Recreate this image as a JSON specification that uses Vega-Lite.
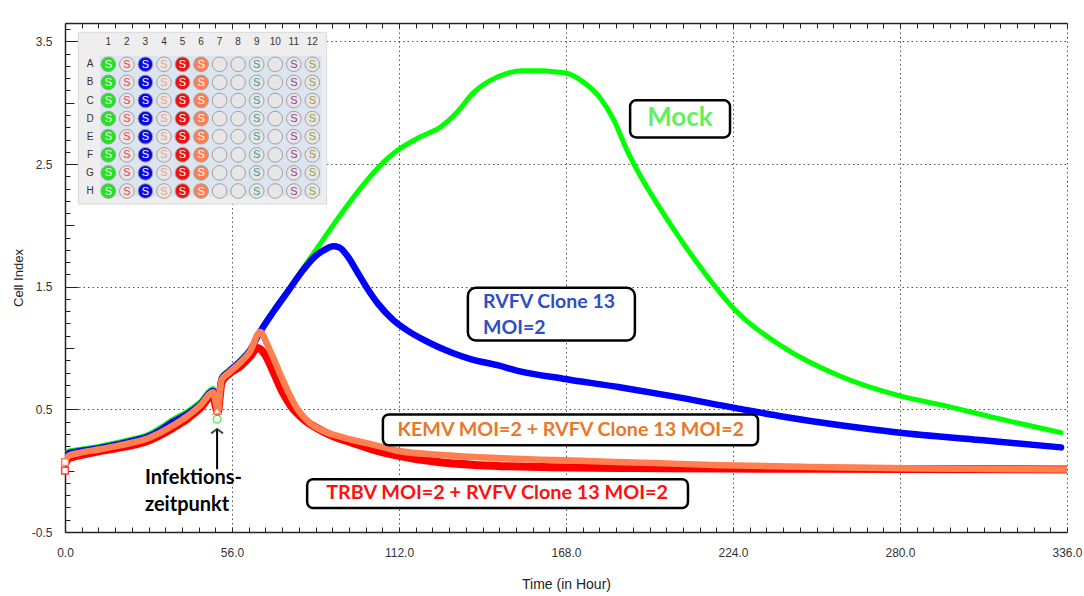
{
  "$schema": "https://vega.github.io/schema/vega-lite/v6.json",
  "width": 1002,
  "height": 509,
  "autosize": {"type": "none"},
  "padding": {"left": 65, "top": 23, "right": 17, "bottom": 64},
  "background": "white",
  "config": {"view": {"stroke": null}, "font": "Liberation Sans"},
  "datasets": {
    "curves": [
      {"s":"mock","t":0,"v":0.10},{"s":"mock","t":1.1,"v":0.16},{"s":"mock","t":3.9,"v":0.17},{"s":"mock","t":11.7,"v":0.20},{"s":"mock","t":22.9,"v":0.26},{"s":"mock","t":27.4,"v":0.29},{"s":"mock","t":31.9,"v":0.35},{"s":"mock","t":36.3,"v":0.42},{"s":"mock","t":40.8,"v":0.48},{"s":"mock","t":45.3,"v":0.56},{"s":"mock","t":49.7,"v":0.67},{"s":"mock","t":50.6,"v":0.58},{"s":"mock","t":51.4,"v":0.56},{"s":"mock","t":52.5,"v":0.76},{"s":"mock","t":55,"v":0.82},{"s":"mock","t":58.7,"v":0.90},{"s":"mock","t":62,"v":0.99},{"s":"mock","t":65.4,"v":1.14},{"s":"mock","t":70,"v":1.31},{"s":"mock","t":75,"v":1.48},{"s":"mock","t":79,"v":1.62},{"s":"mock","t":85,"v":1.83},{"s":"mock","t":91,"v":2.04},{"s":"mock","t":99,"v":2.30},{"s":"mock","t":107,"v":2.52},{"s":"mock","t":112,"v":2.62},{"s":"mock","t":119,"v":2.72},{"s":"mock","t":125.8,"v":2.80},{"s":"mock","t":131.4,"v":2.92},{"s":"mock","t":136.9,"v":3.08},{"s":"mock","t":142.5,"v":3.18},{"s":"mock","t":148.2,"v":3.24},{"s":"mock","t":153.6,"v":3.26},{"s":"mock","t":159.3,"v":3.26},{"s":"mock","t":165,"v":3.25},{"s":"mock","t":168.3,"v":3.24},{"s":"mock","t":173.7,"v":3.17},{"s":"mock","t":179.4,"v":3.04},{"s":"mock","t":184,"v":2.86},{"s":"mock","t":188.5,"v":2.61},{"s":"mock","t":193,"v":2.40},{"s":"mock","t":199.5,"v":2.14},{"s":"mock","t":206,"v":1.90},{"s":"mock","t":213,"v":1.66},{"s":"mock","t":224.7,"v":1.31},{"s":"mock","t":240,"v":1.02},{"s":"mock","t":260,"v":0.77},{"s":"mock","t":280,"v":0.61},{"s":"mock","t":295,"v":0.53},{"s":"mock","t":312,"v":0.43},{"s":"mock","t":334,"v":0.31},
      {"s":"rvfv","t":0,"v":0.08},{"s":"rvfv","t":1.1,"v":0.14},{"s":"rvfv","t":3.9,"v":0.155},{"s":"rvfv","t":11.7,"v":0.185},{"s":"rvfv","t":22.9,"v":0.245},{"s":"rvfv","t":27.4,"v":0.275},{"s":"rvfv","t":31.9,"v":0.33},{"s":"rvfv","t":36.3,"v":0.40},{"s":"rvfv","t":40.8,"v":0.46},{"s":"rvfv","t":45.3,"v":0.54},{"s":"rvfv","t":49.7,"v":0.65},{"s":"rvfv","t":50.6,"v":0.56},{"s":"rvfv","t":51.4,"v":0.54},{"s":"rvfv","t":52.5,"v":0.75},{"s":"rvfv","t":55,"v":0.81},{"s":"rvfv","t":58.7,"v":0.89},{"s":"rvfv","t":62,"v":0.98},{"s":"rvfv","t":65.4,"v":1.13},{"s":"rvfv","t":70,"v":1.30},{"s":"rvfv","t":75,"v":1.47},{"s":"rvfv","t":80,"v":1.64},{"s":"rvfv","t":84,"v":1.75},{"s":"rvfv","t":87,"v":1.80},{"s":"rvfv","t":90,"v":1.83},{"s":"rvfv","t":92,"v":1.82},{"s":"rvfv","t":95,"v":1.74},{"s":"rvfv","t":98,"v":1.62},{"s":"rvfv","t":101,"v":1.50},{"s":"rvfv","t":105,"v":1.36},{"s":"rvfv","t":110,"v":1.23},{"s":"rvfv","t":115,"v":1.14},{"s":"rvfv","t":120,"v":1.07},{"s":"rvfv","t":125,"v":1.01},{"s":"rvfv","t":130,"v":0.96},{"s":"rvfv","t":136,"v":0.91},{"s":"rvfv","t":145,"v":0.86},{"s":"rvfv","t":152.6,"v":0.81},{"s":"rvfv","t":167,"v":0.75},{"s":"rvfv","t":186,"v":0.68},{"s":"rvfv","t":203,"v":0.61},{"s":"rvfv","t":225,"v":0.51},{"s":"rvfv","t":241,"v":0.44},{"s":"rvfv","t":260,"v":0.37},{"s":"rvfv","t":280,"v":0.31},{"s":"rvfv","t":307,"v":0.25},{"s":"rvfv","t":334,"v":0.19},
      {"s":"trbv","t":0,"v":0.05},{"s":"trbv","t":1.1,"v":0.10},{"s":"trbv","t":3.9,"v":0.12},{"s":"trbv","t":11.7,"v":0.16},{"s":"trbv","t":22.9,"v":0.21},{"s":"trbv","t":27.4,"v":0.24},{"s":"trbv","t":31.9,"v":0.29},{"s":"trbv","t":36.3,"v":0.35},{"s":"trbv","t":40.8,"v":0.42},{"s":"trbv","t":45.3,"v":0.51},{"s":"trbv","t":49.7,"v":0.62},{"s":"trbv","t":50.6,"v":0.52},{"s":"trbv","t":51.2,"v":0.48},{"s":"trbv","t":52.5,"v":0.72},{"s":"trbv","t":55,"v":0.79},{"s":"trbv","t":58.7,"v":0.85},{"s":"trbv","t":62,"v":0.93},{"s":"trbv","t":64.5,"v":1.00},{"s":"trbv","t":67,"v":0.95},{"s":"trbv","t":70,"v":0.80},{"s":"trbv","t":73,"v":0.64},{"s":"trbv","t":76,"v":0.52},{"s":"trbv","t":80,"v":0.42},{"s":"trbv","t":85,"v":0.34},{"s":"trbv","t":90,"v":0.28},{"s":"trbv","t":96,"v":0.23},{"s":"trbv","t":105,"v":0.16},{"s":"trbv","t":112,"v":0.12},{"s":"trbv","t":125,"v":0.07},{"s":"trbv","t":139,"v":0.045},{"s":"trbv","t":160,"v":0.03},{"s":"trbv","t":200,"v":0.02},{"s":"trbv","t":250,"v":0.015},{"s":"trbv","t":336,"v":0.01},
      {"s":"kemv","t":0,"v":0.08},{"s":"kemv","t":1.1,"v":0.12},{"s":"kemv","t":3.9,"v":0.14},{"s":"kemv","t":11.7,"v":0.175},{"s":"kemv","t":22.9,"v":0.23},{"s":"kemv","t":27.4,"v":0.26},{"s":"kemv","t":31.9,"v":0.31},{"s":"kemv","t":36.3,"v":0.37},{"s":"kemv","t":40.8,"v":0.44},{"s":"kemv","t":45.3,"v":0.53},{"s":"kemv","t":49.7,"v":0.64},{"s":"kemv","t":50.6,"v":0.55},{"s":"kemv","t":51.2,"v":0.49},{"s":"kemv","t":52.5,"v":0.74},{"s":"kemv","t":55,"v":0.80},{"s":"kemv","t":58.7,"v":0.88},{"s":"kemv","t":62,"v":0.97},{"s":"kemv","t":65.4,"v":1.13},{"s":"kemv","t":68,"v":1.02},{"s":"kemv","t":70,"v":0.91},{"s":"kemv","t":73,"v":0.74},{"s":"kemv","t":75.5,"v":0.61},{"s":"kemv","t":78,"v":0.50},{"s":"kemv","t":82,"v":0.39},{"s":"kemv","t":87,"v":0.32},{"s":"kemv","t":92,"v":0.28},{"s":"kemv","t":100,"v":0.23},{"s":"kemv","t":107,"v":0.19},{"s":"kemv","t":112,"v":0.16},{"s":"kemv","t":125,"v":0.13},{"s":"kemv","t":139,"v":0.11},{"s":"kemv","t":160,"v":0.09},{"s":"kemv","t":173,"v":0.08},{"s":"kemv","t":200,"v":0.06},{"s":"kemv","t":220,"v":0.045},{"s":"kemv","t":250,"v":0.03},{"s":"kemv","t":280,"v":0.02},{"s":"kemv","t":336,"v":0.01}
    ],
    "markers": [
      {"m":"circle","t":51,"v":0.42},
      {"m":"triangle","t":51,"v":0.49},
      {"m":"sqo","t":0,"v":0.07},
      {"m":"sqr","t":0,"v":0.0}
    ],
    "plate": [
      {"c":1,"g":"mock","r":[1,2,3,4,5,6,7,8]},
      {"c":2,"g":"s2","r":[1,2,3,4,5,6,7,8]},
      {"c":3,"g":"rvfv","r":[1,2,3,4,5,6,7,8]},
      {"c":4,"g":"s4","r":[1,2,3,4,5,6,7,8]},
      {"c":5,"g":"trbv","r":[1,2,3,4,5,6,7,8]},
      {"c":6,"g":"kemv","r":[1,2,3,4,5,6,7,8]},
      {"c":7,"g":"empty","r":[1,2,3,4,5,6,7,8]},
      {"c":8,"g":"empty","r":[1,2,3,4,5,6,7,8]},
      {"c":9,"g":"s9","r":[1,2,3,4,5,6,7,8]},
      {"c":10,"g":"empty","r":[1,2,3,4,5,6,7,8]},
      {"c":11,"g":"s11","r":[1,2,3,4,5,6,7,8]},
      {"c":12,"g":"s12","r":[1,2,3,4,5,6,7,8]}
    ],
    "plateRows": [
      {"r":1,"label":"A"},{"r":2,"label":"B"},{"r":3,"label":"C"},{"r":4,"label":"D"},
      {"r":5,"label":"E"},{"r":6,"label":"F"},{"r":7,"label":"G"},{"r":8,"label":"H"}
    ]
  },
  "layer": [
    {
      "resolve": {"axis": {"x": "independent", "y": "independent"}},
      "layer": [
        {
          "data": {"name": "curves"},
          "transform": [{"filter": "datum.s === 'mock'"}],
          "mark": {"type": "line", "color": "#00FF00", "strokeWidth": 5, "strokeCap": "round", "strokeJoin": "round", "interpolate": "monotone", "clip": true},
          "encoding": {
            "x": {
              "field": "t", "type": "quantitative",
              "scale": {"domain": [0, 336], "nice": false, "zero": false},
              "axis": {
                "orient": "bottom",
                "values": [0,5.6,11.2,16.8,22.4,28,33.6,39.2,44.8,50.4,56,61.6,67.2,72.8,78.4,84,89.6,95.2,100.8,106.4,112,117.6,123.2,128.8,134.4,140,145.6,151.2,156.8,162.4,168,173.6,179.2,184.8,190.4,196,201.6,207.2,212.8,218.4,224,229.6,235.2,240.8,246.4,252,257.6,263.2,268.8,274.4,280,285.6,291.2,296.8,302.4,308,313.6,319.2,324.8,330.4,336],
                "title": "Time (in Hour)",
                "titleFont": "Liberation Sans", "titleFontSize": 14, "titleFontWeight": "normal", "titleColor": "#222", "titlePadding": 19,
                "labelExpr": "abs(datum.value/56 - round(datum.value/56)) < 0.001 ? format(datum.value, '.1f') : ''",
                "labelFont": "Liberation Sans", "labelFontSize": 12, "labelColor": "#333", "labelPadding": 20, "labelOverlap": false, "labelFlush": false, "labelBound": false,
                "tickSize": -5, "tickColor": "#222", "tickWidth": 1,
                "domainColor": "#222", "domainWidth": 1.5,
                "grid": true, "gridColor": "#555", "gridDash": [1.5, 3], "gridWidth": 1,
                "gridOpacity": {"condition": {"test": "datum.value > 1 && abs(datum.value/56 - round(datum.value/56)) < 0.001", "value": 1}, "value": 0}
              }
            },
            "y": {
              "field": "v", "type": "quantitative",
              "scale": {"domain": [-0.5, 3.65], "nice": false, "zero": false},
              "axis": {
                "orient": "left",
                "values": [-0.5,-0.4,-0.3,-0.2,-0.1,0,0.1,0.2,0.3,0.4,0.5,0.6,0.7,0.8,0.9,1,1.1,1.2,1.3,1.4,1.5,1.6,1.7,1.8,1.9,2,2.1,2.2,2.3,2.4,2.5,2.6,2.7,2.8,2.9,3,3.1,3.2,3.3,3.4,3.5,3.6],
                "title": null, "labels": false, "grid": false,
                "tickSize": -5, "tickColor": "#222", "tickWidth": 1,
                "domainColor": "#222", "domainWidth": 1.5
              }
            }
          }
        },
        {
          "data": {"name": "curves"},
          "transform": [{"filter": "datum.s === 'rvfv'"}],
          "mark": {"type": "line", "color": "#0000FF", "strokeWidth": 6.5, "strokeCap": "round", "strokeJoin": "round", "interpolate": "monotone", "clip": true},
          "encoding": {
            "x": {
              "field": "t", "type": "quantitative",
              "scale": {"domain": [0, 336], "nice": false, "zero": false},
              "axis": {
                "orient": "top",
                "values": [0,5.6,11.2,16.8,22.4,28,33.6,39.2,44.8,50.4,56,61.6,67.2,72.8,78.4,84,89.6,95.2,100.8,106.4,112,117.6,123.2,128.8,134.4,140,145.6,151.2,156.8,162.4,168,173.6,179.2,184.8,190.4,196,201.6,207.2,212.8,218.4,224,229.6,235.2,240.8,246.4,252,257.6,263.2,268.8,274.4,280,285.6,291.2,296.8,302.4,308,313.6,319.2,324.8,330.4,336],
                "title": null, "labels": false, "grid": false,
                "tickSize": -5, "tickColor": "#222", "tickWidth": 1,
                "domainColor": "#222", "domainWidth": 1.5
              }
            },
            "y": {
              "field": "v", "type": "quantitative",
              "axis": {
                "orient": "left",
                "values": [-0.5, 0.5, 1.5, 2.5, 3.5],
                "title": "Cell Index",
                "titleFont": "Liberation Sans", "titleFontSize": 13, "titleFontWeight": "normal", "titleColor": "#222", "titlePadding": 6,
                "labelExpr": "'' + datum.value",
                "labelFont": "Liberation Sans", "labelFontSize": 12, "labelColor": "#333", "labelPadding": 26, "labelOverlap": false, "labelFlush": false, "labelBound": false,
                "tickSize": -13, "tickColor": "#222", "tickWidth": 1,
                "domain": false,
                "grid": true, "gridColor": "#555", "gridDash": [1.5, 3], "gridWidth": 1,
                "gridOpacity": {"condition": {"test": "datum.value > 0", "value": 1}, "value": 0}
              }
            }
          }
        },
        {
          "data": {"name": "curves"},
          "transform": [{"filter": "datum.s === 'trbv'"}],
          "mark": {"type": "line", "color": "#FF0000", "strokeWidth": 8, "strokeCap": "round", "strokeJoin": "round", "interpolate": "monotone", "clip": true},
          "encoding": {
            "x": {"field": "t", "type": "quantitative", "axis": null},
            "y": {
              "field": "v", "type": "quantitative",
              "axis": {
                "orient": "left",
                "values": [0, 1, 2, 3],
                "title": null, "labels": false, "grid": false, "domain": false,
                "tickSize": -9, "tickColor": "#222", "tickWidth": 1
              }
            }
          }
        },
        {
          "data": {"name": "curves"},
          "transform": [{"filter": "datum.s === 'kemv'"}],
          "mark": {"type": "line", "color": "#FF7F50", "strokeWidth": 6.5, "strokeCap": "round", "strokeJoin": "round", "interpolate": "monotone", "clip": true},
          "encoding": {
            "x": {"field": "t", "type": "quantitative", "axis": null},
            "y": {"field": "v", "type": "quantitative", "axis": null}
          }
        },
        {
          "data": {"name": "markers"},
          "transform": [{"filter": "datum.m === 'circle'"}],
          "mark": {"type": "point", "shape": "circle", "filled": false, "stroke": "#22DD22", "strokeWidth": 1.5, "size": 60},
          "encoding": {
            "x": {"field": "t", "type": "quantitative", "axis": null},
            "y": {"field": "v", "type": "quantitative", "axis": null}
          }
        },
        {
          "data": {"name": "markers"},
          "transform": [{"filter": "datum.m === 'triangle'"}],
          "mark": {"type": "point", "shape": "triangle-up", "filled": true, "fill": "white", "fillOpacity": 1, "stroke": "#FF7F50", "strokeWidth": 1.5, "size": 60},
          "encoding": {
            "x": {"field": "t", "type": "quantitative", "axis": null},
            "y": {"field": "v", "type": "quantitative", "axis": null}
          }
        },
        {
          "data": {"name": "markers"},
          "transform": [{"filter": "datum.m === 'sqo'"}],
          "mark": {"type": "point", "shape": "square", "filled": true, "fill": "white", "fillOpacity": 1, "stroke": "#FF7F50", "strokeWidth": 1.5, "size": 45},
          "encoding": {
            "x": {"field": "t", "type": "quantitative", "axis": null},
            "y": {"field": "v", "type": "quantitative", "axis": null}
          }
        },
        {
          "data": {"name": "markers"},
          "transform": [{"filter": "datum.m === 'sqr'"}],
          "mark": {"type": "point", "shape": "square", "filled": true, "fill": "white", "fillOpacity": 1, "stroke": "#FF4040", "strokeWidth": 1.5, "size": 45},
          "encoding": {
            "x": {"field": "t", "type": "quantitative", "axis": null},
            "y": {"field": "v", "type": "quantitative", "axis": null}
          }
        },
        {
          "data": {"values": [{"label": "arrow"}]},
          "mark": {"type": "rule", "color": "black", "strokeWidth": 2},
          "encoding": {
            "x": {"datum": 51, "type": "quantitative", "axis": null},
            "y": {"datum": 0.012, "type": "quantitative", "axis": null},
            "y2": {"datum": 0.335}
          }
        },
        {
          "data": {"values": [{"label": "arrowhead"}]},
          "mark": {"type": "point", "shape": "M-1,0.75L0,0L1,0.75", "filled": false, "stroke": "black", "strokeWidth": 2, "size": 140},
          "encoding": {
            "x": {"datum": 51, "type": "quantitative", "axis": null},
            "y": {"datum": 0.34, "type": "quantitative", "axis": null}
          }
        },
        {
          "data": {"values": [{"label": "Infektions-\nzeitpunkt"}]},
          "mark": {"type": "text", "font": "Lato", "fontWeight": "bold", "fontSize": 20, "color": "black", "align": "left", "baseline": "middle", "lineBreak": "\n", "lineHeight": 27},
          "encoding": {
            "x": {"datum": 26.8, "type": "quantitative", "axis": null},
            "y": {"datum": -0.06, "type": "quantitative", "axis": null},
            "text": {"field": "label"}
          }
        },
        {
          "data": {"values": [{"label": "Mock"}]},
          "mark": {"type": "rect", "fill": "white", "stroke": "black", "strokeWidth": 2.5, "cornerRadius": 6},
          "encoding": {
            "x": {"datum": 189.5, "type": "quantitative", "axis": null},
            "x2": {"datum": 223.0},
            "y": {"datum": 3.02, "type": "quantitative", "axis": null},
            "y2": {"datum": 2.717}
          }
        },
        {
          "data": {"values": [{"label": "Mock"}]},
          "mark": {"type": "text", "font": "Lato", "fontWeight": "bold", "fontSize": 26, "color": "#5EF25E", "align": "center", "baseline": "middle"},
          "encoding": {
            "x": {"datum": 206.2, "type": "quantitative", "axis": null},
            "y": {"datum": 2.872, "type": "quantitative", "axis": null},
            "text": {"field": "label"}
          }
        },
        {
          "data": {"values": [{"label": "RVFV Clone 13\nMOI=2"}]},
          "mark": {"type": "rect", "fill": "white", "stroke": "black", "strokeWidth": 2.5, "cornerRadius": 8},
          "encoding": {
            "x": {"datum": 135.1, "type": "quantitative", "axis": null},
            "x2": {"datum": 191.1},
            "y": {"datum": 1.492, "type": "quantitative", "axis": null},
            "y2": {"datum": 1.061}
          }
        },
        {
          "data": {"values": [{"label": "RVFV Clone 13\nMOI=2"}]},
          "mark": {"type": "text", "font": "Lato", "fontWeight": "bold", "fontSize": 19.5, "color": "#2F4EC4", "align": "left", "baseline": "middle", "lineBreak": "\n", "lineHeight": 26},
          "encoding": {
            "x": {"datum": 140.2, "type": "quantitative", "axis": null},
            "y": {"datum": 1.378, "type": "quantitative", "axis": null},
            "text": {"field": "label"}
          }
        },
        {
          "data": {"values": [{"label": "KEMV MOI=2 + RVFV Clone 13 MOI=2"}]},
          "mark": {"type": "rect", "fill": "white", "stroke": "black", "strokeWidth": 2.5, "cornerRadius": 6},
          "encoding": {
            "x": {"datum": 106.6, "type": "quantitative", "axis": null},
            "x2": {"datum": 232.4},
            "y": {"datum": 0.459, "type": "quantitative", "axis": null},
            "y2": {"datum": 0.207}
          }
        },
        {
          "data": {"values": [{"label": "KEMV MOI=2 + RVFV Clone 13 MOI=2"}]},
          "mark": {"type": "text", "font": "Lato", "fontWeight": "bold", "fontSize": 19.7, "color": "#E8782A", "align": "center", "baseline": "middle"},
          "encoding": {
            "x": {"datum": 169.6, "type": "quantitative", "axis": null},
            "y": {"datum": 0.329, "type": "quantitative", "axis": null},
            "text": {"field": "label"}
          }
        },
        {
          "data": {"values": [{"label": "TRBV MOI=2 + RVFV Clone 13 MOI=2"}]},
          "mark": {"type": "rect", "fill": "white", "stroke": "black", "strokeWidth": 2.5, "cornerRadius": 6},
          "encoding": {
            "x": {"datum": 81.2, "type": "quantitative", "axis": null},
            "x2": {"datum": 208.9},
            "y": {"datum": -0.069, "type": "quantitative", "axis": null},
            "y2": {"datum": -0.305}
          }
        },
        {
          "data": {"values": [{"label": "TRBV MOI=2 + RVFV Clone 13 MOI=2"}]},
          "mark": {"type": "text", "font": "Lato", "fontWeight": "bold", "fontSize": 19.8, "color": "#FF1010", "align": "center", "baseline": "middle"},
          "encoding": {
            "x": {"datum": 144.9, "type": "quantitative", "axis": null},
            "y": {"datum": -0.183, "type": "quantitative", "axis": null},
            "text": {"field": "label"}
          }
        }
      ]
    },
    {
      "resolve": {"scale": {"color": "independent", "fill": "independent"}},
      "layer": [
        {
          "data": {"values": [{"part": "panel"}]},
          "mark": {"type": "rect", "fill": "#EEEEEE", "stroke": "#D8D8D8", "strokeWidth": 1},
          "encoding": {
            "x": {"datum": -0.617, "type": "quantitative", "scale": {"domain": [-1.334, 52.68], "nice": false, "zero": false}, "axis": null},
            "x2": {"datum": 12.77},
            "y": {"datum": -0.768, "type": "quantitative", "scale": {"domain": [-1.282, 26.84], "reverse": true, "nice": false, "zero": false}, "axis": null},
            "y2": {"datum": 8.72}
          }
        },
        {
          "data": {"values": [{"part": "wells"}]},
          "mark": {"type": "rect", "fill": "#DCE5EF"},
          "encoding": {
            "x": {"datum": 0.553, "type": "quantitative", "axis": null},
            "x2": {"datum": 12.5},
            "y": {"datum": 0.541, "type": "quantitative", "axis": null},
            "y2": {"datum": 8.31}
          }
        },
        {
          "data": {"name": "plate"},
          "transform": [{"flatten": ["r"]}],
          "mark": {"type": "point", "shape": "circle", "filled": true, "fillOpacity": 1, "stroke": "#A0A0A0", "strokeWidth": 1, "size": 215},
          "encoding": {
            "x": {"field": "c", "type": "quantitative", "axis": null},
            "y": {"field": "r", "type": "quantitative", "axis": null},
            "fill": {"field": "g", "type": "nominal", "legend": null,
              "scale": {"domain": ["mock","s2","rvfv","s4","trbv","kemv","empty","s9","s11","s12"],
                        "range": ["#1EE61E","#E6E6E6","#0A0AE6","#E6E6E6","#EE1111","#FF7F50","#E6E6E6","#E6E6E6","#E6E6E6","#E6E6E6"]}}
          }
        },
        {
          "data": {"name": "plate"},
          "transform": [{"flatten": ["r"]}, {"filter": "datum.g !== 'empty'"}],
          "mark": {"type": "text", "text": "S", "font": "Liberation Sans", "fontSize": 11, "align": "center", "baseline": "middle", "dy": 0.5},
          "encoding": {
            "x": {"field": "c", "type": "quantitative", "axis": null},
            "y": {"field": "r", "type": "quantitative", "axis": null},
            "color": {"field": "g", "type": "nominal", "legend": null,
              "scale": {"domain": ["mock","s2","rvfv","s4","trbv","kemv","s9","s11","s12"],
                        "range": ["#FFFFFF","#EE3A5A","#FFFFFF","#EEA080","#FFFFFF","#FFFFFF","#3A9A9A","#A03AA0","#A0A03A"]}}
          }
        },
        {
          "data": {"name": "plate"},
          "mark": {"type": "text", "font": "Liberation Sans", "fontSize": 10, "color": "#333", "align": "center", "baseline": "middle"},
          "encoding": {
            "x": {"field": "c", "type": "quantitative", "axis": null},
            "y": {"datum": -0.215, "type": "quantitative", "axis": null},
            "text": {"field": "c", "type": "nominal"}
          }
        },
        {
          "data": {"name": "plateRows"},
          "mark": {"type": "text", "font": "Liberation Sans", "fontSize": 10, "color": "#333", "align": "center", "baseline": "middle"},
          "encoding": {
            "x": {"datum": 0.013, "type": "quantitative", "axis": null},
            "y": {"field": "r", "type": "quantitative", "axis": null},
            "text": {"field": "label"}
          }
        }
      ]
    }
  ],
  "resolve": {"scale": {"x": "independent", "y": "independent"}, "axis": {"x": "independent", "y": "independent"}}
}
